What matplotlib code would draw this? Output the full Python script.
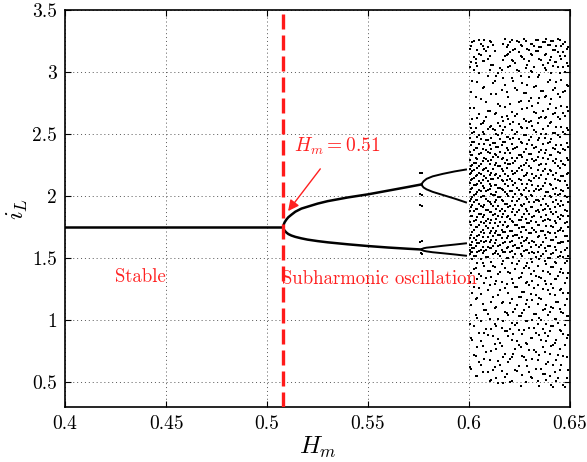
import matplotlib
matplotlib.use("Agg")
import matplotlib.pyplot as plt

plt.rcParams["mathtext.fontset"] = "cm"
plt.rcParams["font.family"] = ["cmr10", "DejaVu Serif"]
plt.rcParams["axes.formatter.use_mathtext"] = True

# period-1 (stable) branch
H_STABLE = [0.40, 0.508]
IL_STABLE = [1.75, 1.75]

# period-2 branches
H_P2 = [0.508, 0.5082, 0.5087, 0.5095, 0.5105, 0.512, 0.514, 0.517, 0.52, 0.525,
        0.53, 0.54, 0.55, 0.56, 0.57, 0.5765]
IL_P2_UP = [1.75, 1.77, 1.79, 1.81, 1.83, 1.85, 1.875, 1.90, 1.915, 1.94,
            1.96, 1.99, 2.015, 2.045, 2.075, 2.095]
IL_P2_LO = [1.75, 1.735, 1.722, 1.708, 1.695, 1.683, 1.672, 1.66, 1.65, 1.638,
            1.628, 1.612, 1.598, 1.586, 1.576, 1.57]

# period-4 branches
H_P4 = [0.5765, 0.5768, 0.5775, 0.579, 0.582, 0.587, 0.593, 0.5985]
IL_P4_A = [2.095, 2.105, 2.12, 2.14, 2.16, 2.18, 2.20, 2.215]
IL_P4_B = [2.095, 2.085, 2.07, 2.055, 2.035, 2.01, 1.98, 1.95]
IL_P4_C = [1.57, 1.575, 1.58, 1.585, 1.59, 1.60, 1.61, 1.62]
IL_P4_D = [1.57, 1.565, 1.56, 1.555, 1.548, 1.54, 1.53, 1.52]

# isolated points near the period-4 onset
H_ISO = [0.5755, 0.5765, 0.5755, 0.5765, 0.5755, 0.5765, 0.5758, 0.5765, 0.576, 0.5765]
IL_ISO = [2.19, 2.19, 2.02, 2.01, 1.93, 1.92, 1.63, 1.64, 1.54, 1.53]

# chaotic region, one list of iL values per H column (two interleaved sets)
H_CHAOS_A = [0.6008, 0.6025, 0.6042, 0.6059, 0.6076, 0.6093, 0.6110, 0.6127, 0.6144,
             0.6161, 0.6178, 0.6195, 0.6212, 0.6229, 0.6246, 0.6263, 0.6280, 0.6297,
             0.6314, 0.6331, 0.6348, 0.6365, 0.6382, 0.6399, 0.6416, 0.6433, 0.6450,
             0.6467, 0.6484]
IL_CHAOS_A = [
    [3.21, 3.08, 2.84, 2.55, 2.41, 2.33, 2.24, 2.19, 2.13, 2.06, 1.98, 1.91, 1.84, 1.77, 1.69, 1.61, 1.55, 1.38, 1.12, 0.86, 0.61],
    [3.25, 3.12, 3.02, 2.71, 2.52, 2.44, 2.37, 2.27, 2.21, 2.15, 2.09, 2.01, 1.95, 1.88, 1.80, 1.73, 1.66, 1.58, 1.52, 1.41, 1.27, 0.95, 0.72],
    [3.18, 3.05, 2.92, 2.63, 2.48, 2.39, 2.30, 2.23, 2.17, 2.10, 2.03, 1.97, 1.90, 1.83, 1.75, 1.68, 1.62, 1.55, 1.46, 1.33, 1.18, 1.02, 0.78, 0.55],
    [3.23, 3.14, 2.78, 2.58, 2.46, 2.35, 2.26, 2.18, 2.11, 2.04, 1.99, 1.92, 1.86, 1.79, 1.71, 1.64, 1.57, 1.49, 1.36, 1.21, 0.99, 0.83, 0.64],
    [3.26, 3.19, 3.09, 2.88, 2.61, 2.50, 2.42, 2.31, 2.22, 2.16, 2.07, 2.00, 1.93, 1.85, 1.78, 1.70, 1.63, 1.56, 1.44, 1.30, 1.08, 0.90, 0.69],
    [3.20, 3.11, 2.97, 2.69, 2.54, 2.45, 2.36, 2.28, 2.20, 2.12, 2.05, 1.96, 1.89, 1.82, 1.74, 1.67, 1.59, 1.51, 1.40, 1.24, 1.05, 0.88, 0.58],
    [3.24, 3.06, 2.82, 2.57, 2.47, 2.38, 2.29, 2.19, 2.14, 2.08, 2.02, 1.94, 1.87, 1.81, 1.72, 1.65, 1.58, 1.47, 1.35, 1.15, 0.93, 0.75, 0.52],
    [3.17, 2.93, 2.66, 2.53, 2.43, 2.34, 2.25, 2.17, 2.09, 2.01, 1.95, 1.86, 1.78, 1.70, 1.62, 1.54, 1.43, 1.29, 1.10, 0.97, 0.81, 0.62],
    [2.99, 2.74, 2.59, 2.49, 2.40, 2.32, 2.24, 2.15, 2.07, 1.99, 1.92, 1.84, 1.76, 1.69, 1.60, 1.53, 1.37, 1.20, 1.01, 0.85, 0.67, 0.49],
    [3.02, 2.86, 2.64, 2.51, 2.41, 2.30, 2.22, 2.13, 2.06, 1.97, 1.90, 1.83, 1.73, 1.66, 1.57, 1.45, 1.31, 1.14, 0.94, 0.79, 0.59],
    [3.27, 3.13, 2.90, 2.72, 2.56, 2.44, 2.35, 2.27, 2.18, 2.10, 2.03, 1.94, 1.88, 1.79, 1.71, 1.63, 1.55, 1.42, 1.26, 1.07, 0.91, 0.73, 0.54],
    [3.22, 3.15, 3.04, 2.80, 2.62, 2.48, 2.37, 2.26, 2.16, 2.08, 2.00, 1.91, 1.84, 1.76, 1.68, 1.59, 1.50, 1.39, 1.22, 1.04, 0.87, 0.66],
    [3.26, 3.10, 2.95, 2.68, 2.53, 2.42, 2.31, 2.20, 2.12, 2.04, 1.96, 1.87, 1.80, 1.72, 1.64, 1.56, 1.46, 1.33, 1.17, 0.98, 0.84, 0.70, 0.51],
    [3.19, 3.07, 2.87, 2.65, 2.50, 2.39, 2.28, 2.19, 2.11, 2.02, 1.93, 1.85, 1.77, 1.69, 1.61, 1.53, 1.41, 1.27, 1.09, 0.96, 0.77, 0.60],
    [3.24, 3.16, 3.01, 2.76, 2.58, 2.46, 2.33, 2.23, 2.14, 2.05, 1.98, 1.89, 1.81, 1.74, 1.66, 1.58, 1.48, 1.34, 1.19, 1.03, 0.92, 0.80, 0.63],
    [3.21, 3.12, 2.91, 2.70, 2.55, 2.43, 2.32, 2.21, 2.10, 2.01, 1.92, 1.83, 1.75, 1.67, 1.60, 1.52, 1.38, 1.23, 1.06, 0.89, 0.71, 0.56],
    [3.25, 3.03, 2.83, 2.61, 2.49, 2.38, 2.27, 2.17, 2.07, 1.99, 1.90, 1.82, 1.73, 1.65, 1.57, 1.44, 1.30, 1.13, 0.99, 0.82, 0.68, 0.50],
    [3.18, 3.09, 2.96, 2.77, 2.60, 2.45, 2.34, 2.24, 2.13, 2.04, 1.95, 1.86, 1.78, 1.70, 1.62, 1.54, 1.42, 1.28, 1.11, 0.94, 0.76, 0.58],
    [3.23, 3.14, 3.00, 2.73, 2.57, 2.41, 2.30, 2.18, 2.09, 2.00, 1.91, 1.83, 1.74, 1.64, 1.55, 1.47, 1.32, 1.16, 1.00, 0.86, 0.69, 0.53],
    [3.26, 3.17, 2.89, 2.67, 2.52, 2.40, 2.29, 2.16, 2.06, 1.97, 1.88, 1.79, 1.71, 1.61, 1.51, 1.36, 1.20, 1.05, 0.90, 0.74, 0.61],
    [3.20, 3.11, 2.98, 2.79, 2.63, 2.47, 2.36, 2.25, 2.15, 2.05, 1.96, 1.87, 1.77, 1.68, 1.59, 1.49, 1.35, 1.18, 1.02, 0.88, 0.72, 0.47],
    [3.24, 3.06, 2.85, 2.69, 2.54, 2.42, 2.31, 2.20, 2.08, 1.98, 1.89, 1.80, 1.72, 1.63, 1.53, 1.40, 1.25, 1.08, 0.93, 0.78, 0.57],
    [3.27, 3.15, 3.02, 2.81, 2.64, 2.50, 2.37, 2.26, 2.14, 2.03, 1.94, 1.85, 1.76, 1.66, 1.56, 1.45, 1.29, 1.12, 0.97, 0.83, 0.65, 0.52],
    [3.22, 3.10, 2.94, 2.74, 2.59, 2.44, 2.33, 2.21, 2.10, 2.00, 1.90, 1.81, 1.70, 1.60, 1.50, 1.37, 1.21, 1.07, 0.91, 0.73, 0.55],
    [3.25, 3.18, 3.05, 2.86, 2.66, 2.51, 2.39, 2.28, 2.17, 2.06, 1.95, 1.86, 1.75, 1.65, 1.54, 1.43, 1.26, 1.10, 0.95, 0.80, 0.64, 0.46],
    [3.21, 3.08, 2.92, 2.71, 2.56, 2.41, 2.30, 2.19, 2.07, 1.97, 1.87, 1.78, 1.67, 1.57, 1.46, 1.33, 1.15, 1.01, 0.84, 0.68, 0.51],
    [3.26, 3.13, 2.99, 2.80, 2.62, 2.48, 2.35, 2.23, 2.12, 2.02, 1.92, 1.82, 1.73, 1.62, 1.52, 1.39, 1.24, 1.09, 0.92, 0.77, 0.60],
    [3.23, 3.16, 3.04, 2.84, 2.67, 2.52, 2.38, 2.26, 2.16, 2.04, 1.93, 1.84, 1.72, 1.63, 1.51, 1.38, 1.22, 1.06, 0.89, 0.71, 0.48],
    [3.19, 3.07, 2.90, 2.72, 2.55, 2.43, 2.31, 2.18, 2.09, 1.99, 1.88, 1.79, 1.68, 1.58, 1.48, 1.34, 1.17, 1.03, 0.86, 0.70, 0.53],
]
H_CHAOS_B = [0.6003, 0.6016, 0.6033, 0.6050, 0.6067, 0.6084, 0.6102, 0.6119, 0.6136,
             0.6153, 0.6170, 0.6187, 0.6203, 0.6220, 0.6238, 0.6255, 0.6272, 0.6289,
             0.6306, 0.6323, 0.6340, 0.6357, 0.6374, 0.6391, 0.6408, 0.6425, 0.6441,
             0.6458, 0.6475, 0.6492]
IL_CHAOS_B = [
    [3.19, 3.04, 2.71, 2.58, 2.47, 2.36, 2.29, 2.22, 2.18, 2.11, 2.03, 1.96, 1.88, 1.79, 1.66, 1.61, 1.57, 1.53, 1.31, 0.97, 0.62],
    [3.24, 2.93, 2.62, 2.51, 2.44, 2.33, 2.25, 2.20, 2.14, 2.07, 1.99, 1.93, 1.84, 1.71, 1.63, 1.58, 1.55, 1.49, 1.22, 0.84],
    [3.11, 3.07, 2.80, 2.55, 2.39, 2.31, 2.27, 2.16, 2.09, 2.02, 1.97, 1.90, 1.81, 1.75, 1.65, 1.60, 1.52, 1.42, 1.17, 1.04, 0.71, 0.55],
    [3.26, 3.15, 2.99, 2.66, 2.49, 2.42, 2.34, 2.24, 2.19, 2.12, 2.05, 1.94, 1.86, 1.77, 1.69, 1.62, 1.56, 1.37, 1.26, 0.90, 0.66],
    [3.21, 3.09, 2.87, 2.59, 2.52, 2.38, 2.28, 2.21, 2.13, 2.08, 2.00, 1.91, 1.83, 1.73, 1.67, 1.59, 1.54, 1.46, 1.13, 0.79, 0.58],
    [3.17, 2.76, 2.64, 2.45, 2.37, 2.30, 2.23, 2.15, 2.04, 1.98, 1.89, 1.80, 1.76, 1.64, 1.57, 1.51, 1.34, 1.08, 0.93, 0.74],
    [3.25, 3.13, 3.02, 2.69, 2.56, 2.41, 2.35, 2.26, 2.17, 2.10, 2.06, 1.95, 1.87, 1.78, 1.70, 1.63, 1.58, 1.40, 1.28, 1.01, 0.68, 0.51],
    [3.22, 3.06, 2.91, 2.54, 2.43, 2.32, 2.22, 2.14, 2.01, 1.92, 1.85, 1.74, 1.68, 1.60, 1.53, 1.44, 1.19, 0.87, 0.60],
    [2.97, 2.82, 2.67, 2.50, 2.40, 2.33, 2.27, 2.18, 2.09, 2.03, 1.97, 1.90, 1.82, 1.72, 1.65, 1.56, 1.32, 1.11, 0.95, 0.77, 0.53],
    [3.03, 2.73, 2.57, 2.46, 2.36, 2.24, 2.16, 2.07, 1.99, 1.88, 1.79, 1.69, 1.61, 1.52, 1.39, 1.24, 0.82, 0.64],
    [3.23, 3.10, 2.95, 2.61, 2.53, 2.44, 2.31, 2.20, 2.12, 2.05, 1.96, 1.86, 1.77, 1.71, 1.62, 1.55, 1.48, 1.15, 0.99, 0.70, 0.49],
    [3.20, 3.14, 2.84, 2.65, 2.48, 2.39, 2.29, 2.23, 2.13, 2.02, 1.94, 1.83, 1.75, 1.66, 1.58, 1.50, 1.29, 1.06, 0.91, 0.57],
    [3.24, 3.16, 3.05, 2.74, 2.58, 2.46, 2.35, 2.26, 2.14, 2.04, 1.92, 1.82, 1.72, 1.63, 1.55, 1.38, 1.14, 0.93, 0.69, 0.50],
    [3.18, 3.09, 2.93, 2.60, 2.47, 2.38, 2.27, 2.18, 2.09, 1.99, 1.90, 1.79, 1.68, 1.60, 1.51, 1.30, 1.07, 0.89, 0.73],
    [3.25, 3.02, 2.86, 2.66, 2.52, 2.40, 2.31, 2.20, 2.07, 1.96, 1.87, 1.77, 1.69, 1.58, 1.45, 1.27, 1.12, 0.98, 0.83, 0.59],
    [3.22, 3.13, 2.97, 2.77, 2.56, 2.44, 2.33, 2.24, 2.13, 2.02, 1.93, 1.81, 1.71, 1.62, 1.53, 1.35, 1.19, 1.03, 0.78, 0.47],
    [3.27, 3.11, 2.83, 2.62, 2.49, 2.36, 2.25, 2.16, 2.05, 1.94, 1.86, 1.75, 1.64, 1.56, 1.42, 1.23, 1.08, 0.92, 0.70],
    [3.19, 3.06, 2.90, 2.71, 2.55, 2.42, 2.29, 2.19, 2.10, 1.98, 1.88, 1.78, 1.66, 1.57, 1.46, 1.31, 1.16, 0.99, 0.81, 0.63],
    [3.23, 3.15, 3.01, 2.79, 2.61, 2.48, 2.34, 2.23, 2.12, 2.01, 1.91, 1.80, 1.70, 1.59, 1.49, 1.37, 1.21, 0.86, 0.54],
    [3.21, 3.04, 2.88, 2.68, 2.53, 2.39, 2.28, 2.15, 2.04, 1.95, 1.84, 1.73, 1.63, 1.54, 1.40, 1.26, 1.05, 0.94, 0.76],
    [3.26, 3.17, 2.96, 2.75, 2.59, 2.45, 2.32, 2.21, 2.08, 1.97, 1.89, 1.77, 1.67, 1.55, 1.44, 1.28, 1.13, 0.97, 0.68, 0.51],
    [3.20, 3.10, 2.85, 2.64, 2.50, 2.37, 2.26, 2.17, 2.06, 1.93, 1.83, 1.72, 1.61, 1.52, 1.34, 1.17, 1.00, 0.84, 0.61],
    [3.24, 3.14, 3.03, 2.80, 2.63, 2.47, 2.35, 2.22, 2.11, 2.00, 1.90, 1.81, 1.69, 1.58, 1.48, 1.32, 1.09, 0.90, 0.74, 0.57],
    [3.22, 3.07, 2.92, 2.70, 2.57, 2.43, 2.30, 2.18, 2.03, 1.92, 1.82, 1.71, 1.60, 1.50, 1.39, 1.24, 1.04, 0.87, 0.66],
    [3.25, 3.12, 2.99, 2.78, 2.60, 2.46, 2.33, 2.20, 2.09, 1.99, 1.87, 1.76, 1.65, 1.53, 1.43, 1.29, 1.11, 0.95, 0.79, 0.48],
    [3.18, 3.08, 2.87, 2.67, 2.51, 2.38, 2.27, 2.14, 2.02, 1.91, 1.80, 1.70, 1.59, 1.47, 1.33, 1.20, 1.01, 0.82, 0.58],
    [3.27, 3.16, 3.04, 2.82, 2.64, 2.49, 2.36, 2.24, 2.13, 2.01, 1.94, 1.83, 1.72, 1.62, 1.51, 1.36, 1.15, 0.98, 0.72, 0.53],
    [3.21, 3.11, 2.94, 2.73, 2.56, 2.41, 2.28, 2.16, 2.05, 1.96, 1.85, 1.74, 1.63, 1.55, 1.41, 1.25, 1.07, 0.91, 0.64],
    [3.24, 3.13, 3.00, 2.85, 2.65, 2.50, 2.37, 2.25, 2.12, 2.00, 1.89, 1.78, 1.68, 1.57, 1.46, 1.30, 1.12, 0.96, 0.80, 0.46],
    [3.20, 3.05, 2.89, 2.69, 2.53, 2.40, 2.29, 2.19, 2.07, 1.95, 1.84, 1.75, 1.64, 1.52, 1.38, 1.22, 1.03, 0.88, 0.60],
]

H_CRIT = 0.508
X_TICKS = [0.4, 0.45, 0.5, 0.55, 0.6, 0.65]
Y_TICKS = [0.5, 1, 1.5, 2, 2.5, 3, 3.5]


def main() -> None:
    fig = plt.figure(figsize=(5.87, 4.62), dpi=100)
    ax = fig.add_axes([0.111, 0.119, 0.860, 0.859])

    lw = 1.8
    ax.plot(H_STABLE, IL_STABLE, color="black", lw=lw)
    ax.plot(H_P2, IL_P2_UP, color="black", lw=lw)
    ax.plot(H_P2, IL_P2_LO, color="black", lw=lw)
    for branch in (IL_P4_A, IL_P4_B, IL_P4_C, IL_P4_D):
        ax.plot(H_P4, branch, color="black", lw=1.4)
    ax.plot(H_ISO, IL_ISO, "s", color="black", ms=1.6, mew=0)

    for hs, cols in ((H_CHAOS_A, IL_CHAOS_A), (H_CHAOS_B, IL_CHAOS_B)):
        for h, col in zip(hs, cols):
            ax.plot([h] * len(col), col, "s", color="black", ms=1.5, mew=0)

    ax.axvline(H_CRIT, color="#ff1a1a", lw=2.4, linestyle=(0, (4.5, 1.8)), zorder=5)

    ax.annotate(r"$H_m = 0.51$", xy=(0.5104, 1.88), xytext=(0.5134, 2.40),
                color="#ff2020", fontsize=14, va="center", ha="left",
                arrowprops=dict(arrowstyle="-|>", color="#ff2020", lw=1.0,
                                mutation_scale=16, shrinkA=8, shrinkB=0))
    ax.text(0.4248, 1.35, "Stable", color="#ff2020", fontsize=13.5, va="center")
    ax.text(0.5075, 1.33, "Subharmonic oscillation", color="#ff2020",
            fontsize=13.5, va="center")

    ax.set_xlim(0.4, 0.65)
    ax.set_ylim(0.3, 3.5)
    ax.set_xticks(X_TICKS)
    ax.set_xticklabels(["0.4", "0.45", "0.5", "0.55", "0.6", "0.65"])
    ax.set_yticks(Y_TICKS)
    ax.set_yticklabels(["0.5", "1", "1.5", "2", "2.5", "3", "3.5"])
    ax.tick_params(direction="in", top=True, right=True, labelsize=14,
                   length=4, width=0.8, pad=6)
    ax.grid(True, linestyle=(0, (1, 3)), color="#555555", lw=0.7)
    for s in ax.spines.values():
        s.set_linewidth(1.2)

    ax.set_xlabel(r"$H_m$", fontsize=18, labelpad=1)
    ax.set_ylabel(r"$i_L$", fontsize=18, labelpad=1)

    fig.savefig("out.png", dpi=100)


if __name__ == "__main__":
    main()
